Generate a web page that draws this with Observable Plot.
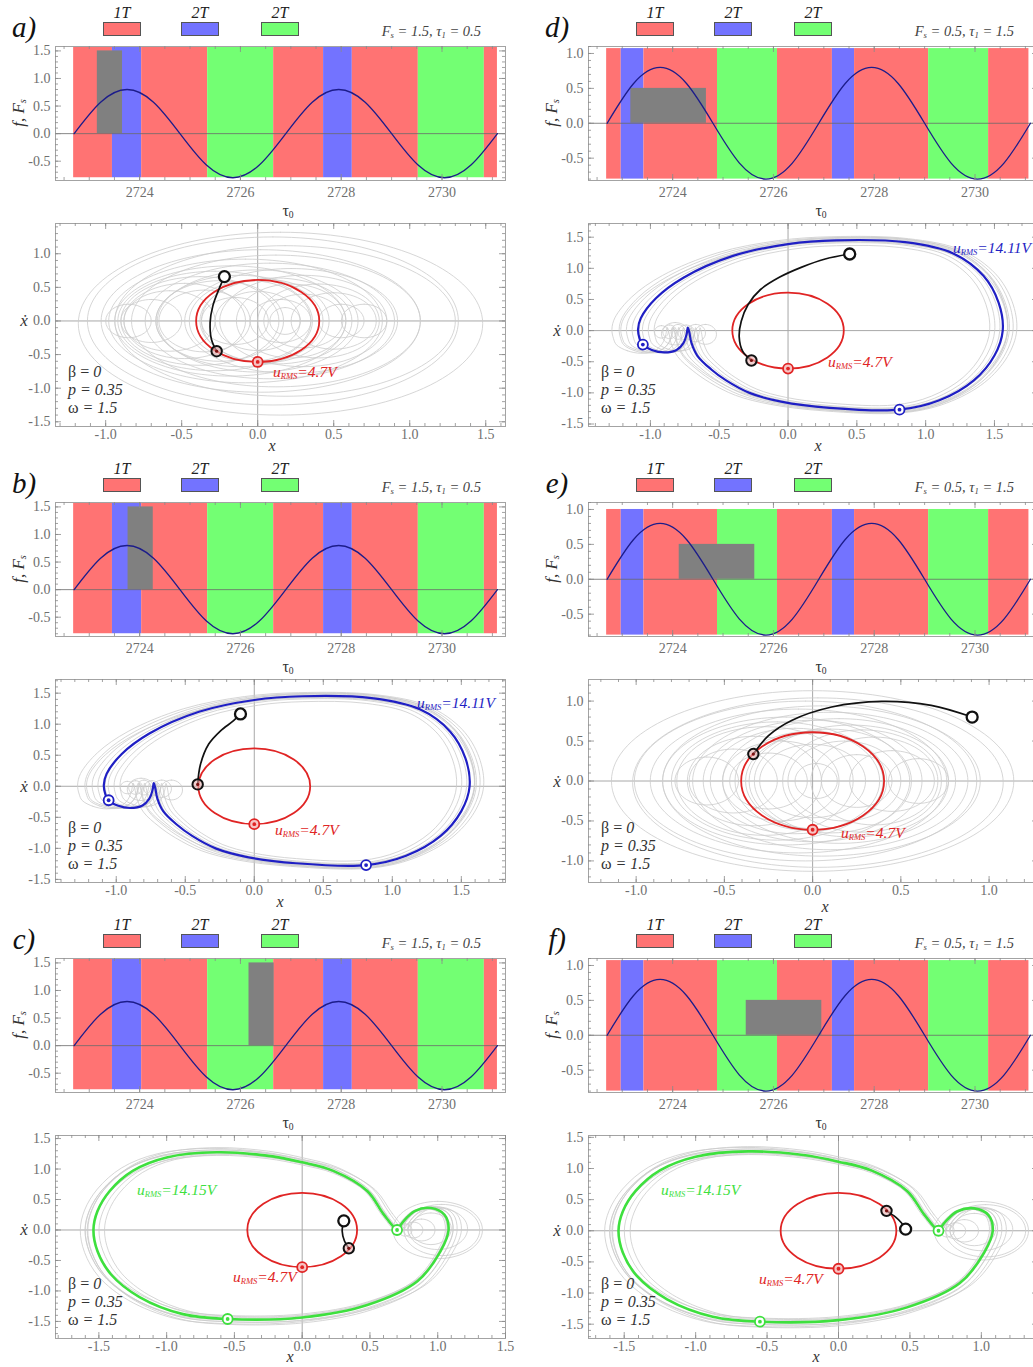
<!DOCTYPE html>
<html><head><meta charset="utf-8">
<script src="https://cdn.jsdelivr.net/npm/d3@7"></script>
<script src="https://cdn.jsdelivr.net/npm/@observablehq/plot@0.6"></script>
<style>
body{margin:0;background:#fff;}
#root{position:relative;width:1033px;height:1367px;overflow:hidden;background:#fff;font-family:"Liberation Serif","DejaVu Serif",serif;}
.abs{position:absolute;white-space:nowrap;line-height:1;}
.box{position:absolute;border:1px solid #555;box-sizing:border-box;}
sub{font-size:60%;vertical-align:-0.25em;}
</style></head><body><div id="root"></div><script>
// ---------------- layout of the 2 x 3 grid ----------------
const colX = [0, 533];
const rowY = [0, 456, 912];

// ---------------- strip (time) charts ----------------
const tauTicks = [2724, 2726, 2728, 2730];
const tauDomain = [2722.33, 2731.26];
const sineTau = [2722.7, 2723.225, 2723.75, 2724.275, 2724.8, 2725.325, 2725.85, 2726.375, 2726.9, 2727.425, 2727.95, 2728.475, 2729.0, 2729.525, 2730.05, 2730.575, 2731.1];
const sineF = [0, 0.57, 0.8, 0.57, 0, -0.57, -0.8, -0.57, 0, 0.57, 0.8, 0.57, 0, -0.57, -0.8, -0.57, 0];
const bandEdgesFs15 = [2722.69, 2723.46, 2724.04, 2725.35, 2726.66, 2727.65, 2728.22, 2729.53, 2730.84, 2731.1];
const bandEdgesFs05 = [2722.69, 2722.98, 2723.43, 2724.89, 2726.08, 2727.17, 2727.61, 2729.08, 2730.27, 2731.07];
const bandModes = ["1T", "2Tb", "1T", "2Tg", "1T", "2Tb", "1T", "2Tg", "1T"];
const modeColor = {"1T": "#ff7373", "2Tb": "#7373ff", "2Tg": "#73ff73"};
const legendModes = ["1T", "2Tb", "2Tg"];
const legendLabels = ["1T", "2T", "2T"];

const panelLetters = ["a)", "b)", "c)", "d)", "e)", "f)"];
const panelFs = [1.5, 1.5, 1.5, 0.5, 0.5, 0.5];
const panelTau1 = [0.5, 0.5, 0.5, 1.5, 1.5, 1.5];
const pulseStart = [2723.16, 2723.77, 2726.17, 2723.17, 2724.13, 2725.46];
const bandTop = [1.57, 1.57, 1.57, 1.07, 1.0, 1.07];
const bandBottom = -0.8;
const stripYDomainL = [-0.85, 1.58];
const stripYDomainR = [-0.82, 1.1];
const stripYTicksL = [-0.5, 0, 0.5, 1.0, 1.5];
const stripYTicksR = [-0.5, 0, 0.5, 1.0];

// ---------------- phase portraits ----------------
const phaseXDomain = [[-1.33, 1.63], [-1.44, 1.82], [-1.82, 1.50], [-1.45, 1.82], [-1.27, 1.28], [-1.75, 1.40]];
const phaseYDomain = [[-1.57, 1.45], [-1.55, 1.72], [-1.78, 1.55], [-1.54, 1.72], [-1.27, 1.27], [-1.73, 1.53]];
const phaseTicks = [-1.5, -1.0, -0.5, 0, 0.5, 1.0, 1.5];
const attractor = ["red", "blue", "green", "blue", "red", "green"];

// red 1T orbit: extreme points (right, top, left, bottom)
const orbitRed = [[0.405, 0], [0, 0.61], [-0.405, 0], [0, -0.61]];
// blue 2T orbit
const orbitBlue = [[-1.06,-0.22],[-0.99,-0.31],[-0.9,-0.35],[-0.81,-0.31],[-0.76,-0.2],[-0.737,-0.06],[-0.728,0.05],[-0.717,-0.03],[-0.703,-0.19],[-0.66,-0.4],[-0.56,-0.62],[-0.45,-0.8],[-0.28,-1.0],[-0.05,-1.14],[0.3,-1.24],[0.81,-1.27],[1.1,-1.12],[1.35,-0.8],[1.5,-0.4],[1.56,0],[1.53,0.45],[1.42,0.88],[1.2,1.24],[0.85,1.42],[0.35,1.45],[0,1.39],[-0.4,1.2],[-0.76,0.85],[-0.96,0.52],[-1.07,0.2],[-1.09,0.02],[-1.08,-0.12]];
// green 2T orbit
const orbitGreen = [[0.70,0.0],[0.6,0.26],[0.48,0.64],[0.23,0.97],[0.0,1.11],[-0.26,1.22],[-0.63,1.275],[-1.0,1.19],[-1.25,0.97],[-1.42,0.64],[-1.51,0.31],[-1.54,0],[-1.51,-0.35],[-1.41,-0.73],[-1.2,-1.1],[-0.88,-1.38],[-0.55,-1.46],[0.0,-1.435],[0.48,-1.23],[0.85,-0.84],[1.02,-0.35],[1.08,0.0],[1.05,0.25],[0.95,0.36],[0.83,0.31],[0.75,0.15],[0.71,0.03]];
const blueMarkers = [[-1.055, -0.225], [0.81, -1.27]];
const greenMarkers = [[0.70, 0.0], [-0.55, -1.46]];
const redMarker = [0, -0.61];

// transient (black) trajectories: first point = start (open circle), last = end (ring)
const transients = [
  [[-0.219,0.66],[-0.25,0.5],[-0.295,0.225],[-0.313,-0.025],[-0.304,-0.275],[-0.27,-0.45]],
  [[-0.10,1.165],[-0.15,1.057],[-0.246,0.89],[-0.33,0.68],[-0.39,0.35],[-0.41,0.03]],
  [[0.307,0.15],[0.295,-0.016],[0.312,-0.18],[0.344,-0.30]],
  [[0.448,1.23],[0.27,1.15],[0.1,1.02],[-0.06,0.86],[-0.2,0.66],[-0.29,0.42],[-0.34,0.15],[-0.355,-0.1],[-0.33,-0.33],[-0.266,-0.48]],
  [[0.904,0.8],[0.672,0.947],[0.39,0.997],[0.108,0.926],[-0.119,0.758],[-0.25,0.568],[-0.336,0.337]],
  [[0.47,0.027],[0.44,0.13],[0.40,0.22],[0.336,0.32]]
];

// grey background loops: [cx, cy, rx, ry]
const greyLoopsA = [[0.15,-0.04,1.33,1.36],[0.10,0,1.22,1.25],[0.18,0,1.12,1.12],[0.02,0,1.05,1.06],[0.12,0,0.95,0.98],[-0.08,0,0.90,0.92],[0.08,0,0.82,0.86],[-0.18,0,0.76,0.82],[0.22,0,0.70,0.78],[-0.28,0,0.64,0.74],[0.0,0,0.66,0.76],[0.30,0,0.55,0.68],[-0.38,0,0.52,0.66],[-0.12,0,0.55,0.68],[0.12,0,0.50,0.64],[-0.48,0,0.40,0.56],[0.40,0,0.40,0.55],[-0.25,0,0.42,0.6],[0.05,0,0.42,0.62],[-0.05,0,0.40,0.6],[0.22,0,0.36,0.55],[-0.58,0,0.30,0.45],[0.5,0,0.28,0.42],[-0.35,0,0.3,0.46],[0.3,0,0.26,0.4],[0.0,0,0.28,0.44],[-0.15,0,0.22,0.35],[0.15,0,0.2,0.32],[0.55,0,0.15,0.25],[-0.7,0,0.2,0.32],[0.18,0,0.1,0.2],[-0.85,0,0.15,0.25],[0.7,0,0.15,0.25]];
const greyLoopsE = [[0,0,1.14,1.13],[0.03,-0.02,1.05,1.06],[-0.04,0,0.97,1.0],[0.05,0,0.9,0.94],[-0.08,0,0.84,0.9],[0.1,0,0.78,0.86],[-0.15,0,0.7,0.8],[0.15,0,0.66,0.78],[-0.2,0,0.6,0.74],[0.0,0,0.62,0.76],[0.22,0,0.55,0.7],[-0.27,0,0.5,0.68],[0.28,0,0.45,0.64],[-0.1,0,0.48,0.66],[0.1,0,0.46,0.65],[-0.33,0,0.38,0.56],[0.35,0,0.36,0.55],[0.02,0,0.4,0.6],[-0.02,0,0.42,0.62],[-0.18,0,0.33,0.5],[0.18,0,0.32,0.5],[0.0,0,0.3,0.46],[-0.45,0,0.25,0.4],[0.45,0,0.24,0.38],[-0.25,0,0.22,0.35],[0.25,0,0.2,0.33],[0.02,0,0.12,0.22],[-0.6,0,0.18,0.3],[0.6,0,0.17,0.28]];
const greyLoopsBlue = [[-0.92,-0.02,0.05,0.1],[-0.86,-0.02,0.05,0.11],[-0.8,-0.02,0.05,0.12],[-0.74,-0.03,0.06,0.12],[-0.67,-0.04,0.07,0.14],[-0.6,-0.06,0.08,0.16],[-0.82,-0.05,0.1,0.18]];
const greyLoopsGreen = [[0.76,0,0.05,0.1],[0.82,0,0.07,0.13],[0.88,0,0.1,0.18],[0.95,0.02,0.15,0.26],[1.0,0.02,0.22,0.34],[1.03,0,0.28,0.42],[1.0,0,0.33,0.47]];
// grey bundle around the 2T orbits: [scale x, scale y, shift x]
const bundleBlue = [[1.11,1.04,-0.07],[1.08,1.03,-0.05],[1.05,1.02,-0.03],[1.03,1.01,-0.01],[0.98,0.985,0.01],[0.95,0.97,0.02],[1.06,0.98,-0.06],[1.01,1.03,0.02],[0.92,0.94,0.03]];
const bundleGreen = [[1.05,1.05,-0.02],[1.03,1.03,0.0],[1.02,1.01,-0.03],[0.98,0.98,0.01],[0.96,0.97,0.02],[1.06,1.03,0.03],[1.0,0.96,0.0],[1.04,1.06,0.02]];

const rmsText = {red: "4.7V", blue: "14.11V", green: "14.15V"};
const colors = {red: "#e02424", blue: "#1f1fc4", green: "#3ee03e", grey: "#cbcbcb", frame: "#a3a3a3", tick: "#6f6f6f"};
// position of the "x" axis title under each phase portrait (panel-local)
const xTitlePos = [[272, 446], [280, 446], [290, 445], [285, 446], [292, 451], [283, 445]];

// ---------------- helpers ----------------
const root = document.getElementById("root");
function txt(html, x, y, css = "", anchor = "middle", rot = "") {
  const d = document.createElement("div");
  d.className = "abs";
  d.innerHTML = html;
  d.style.cssText += css;
  d.style.left = x + "px"; d.style.top = y + "px";
  const tx = anchor === "middle" ? "-50%" : anchor === "end" ? "-100%" : "0";
  d.style.transform = `translate(${tx},-50%)` + rot;
  root.appendChild(d);
}
function placeSvg(svg, x, y) {
  svg.style.position = "absolute"; svg.style.left = x + "px"; svg.style.top = y + "px";
  root.appendChild(svg);
}
function loopPts(list, tag) {
  return list.flatMap(([cx, cy, rx, ry], k) =>
    [[cx + rx, cy], [cx, cy + ry], [cx - rx, cy], [cx, cy - ry]].map(([x, y]) => ({x, y, id: tag + k})));
}
function bundlePts(orbit, list) {
  return list.flatMap(([sx, sy, dx], k) => orbit.map(([x, y]) => ({x: x * sx + dx, y: y * sy, id: "b" + k})));
}
function frameTicks(xMajor, xMinor, yMajor, yMinor, iw, ih) {
  const st = {stroke: "#8a8a8a", strokeWidth: 0.8};
  return [
    Plot.tickX(xMinor, {x: d => d, insetTop: ih - 3, ...st}),
    Plot.tickX(xMinor, {x: d => d, insetBottom: ih - 3, ...st}),
    Plot.tickX(xMajor, {x: d => d, insetTop: ih - 6, ...st}),
    Plot.tickX(xMajor, {x: d => d, insetBottom: ih - 6, ...st}),
    Plot.tickY(yMinor, {y: d => d, insetRight: iw - 3, ...st}),
    Plot.tickY(yMinor, {y: d => d, insetLeft: iw - 3, ...st}),
    Plot.tickY(yMajor, {y: d => d, insetRight: iw - 6, ...st}),
    Plot.tickY(yMajor, {y: d => d, insetLeft: iw - 6, ...st})
  ];
}
const plotStyle = {fontFamily: "'Liberation Serif','DejaVu Serif',serif", fontSize: "14px", color: colors.tick, background: "transparent", overflow: "visible"};
const minorIn = (lo, hi, step) => d3.range(Math.ceil(lo / step - 1e-9) * step, hi + 1e-9, step).map(v => +v.toFixed(3));

// ---------------- strip chart ----------------
function strip(i) {
  const left = i < 3;
  const edges = left ? bandEdgesFs15 : bandEdgesFs05;
  const bands = bandModes.map((m, k) => ({t0: edges[k], t1: edges[k + 1], y1: bandBottom, y2: bandTop[i], c: modeColor[m]}));
  const yDom = left ? stripYDomainL : stripYDomainR;
  const yT = left ? stripYTicksL : stripYTicksR;
  const sine = sineTau.map((t, k) => ({t, f: sineF[k]}));
  const pulse = [{t0: pulseStart[i], t1: pulseStart[i] + panelTau1[i], y1: 0, y2: panelFs[i]}];
  return Plot.plot({
    width: 516, height: 220, marginLeft: 55, marginRight: 11, marginTop: 46, marginBottom: 40,
    x: {domain: tauDomain, label: null}, y: {domain: yDom, label: null},
    color: {type: "identity"},
    style: plotStyle,
    marks: [
      Plot.rect(bands, {x1: "t0", x2: "t1", y1: "y1", y2: "y2", fill: "c"}),
      Plot.rect(pulse, {x1: "t0", x2: "t1", y1: "y1", y2: "y2", fill: "#808080"}),
      Plot.ruleY([0], {stroke: "#6a6a6a", strokeWidth: 1, strokeOpacity: 0.8}),
      Plot.line(sine, {x: "t", y: "f", curve: "natural", stroke: "#1c1c8a", strokeWidth: 1.3}),
      Plot.frame({stroke: colors.frame}),
      ...frameTicks(tauTicks, minorIn(tauDomain[0], tauDomain[1], 0.5), yT, minorIn(yDom[0], yDom[1], 0.1), 450, 134),
      Plot.axisX(tauTicks, {anchor: "bottom", tickSize: 0, tickPadding: 7, tickFormat: d => String(d), label: null}),
      Plot.axisY(yT, {anchor: "left", tickSize: 0, tickPadding: 5, tickFormat: d => d.toFixed(1), label: null})
    ]
  });
}

// ---------------- phase portrait ----------------
function phase(i) {
  const xd = phaseXDomain[i], yd = phaseYDomain[i];
  const kind = attractor[i];
  const xT = phaseTicks.filter(v => v >= xd[0] && v <= xd[1]);
  const yT = phaseTicks.filter(v => v >= yd[0] && v <= yd[1]);
  let grey = [], bundle = [], orbit = null, mk = [];
  if (kind === "red") grey = loopPts(i === 0 ? greyLoopsA : greyLoopsE, "g");
  if (kind === "blue") { grey = loopPts(greyLoopsBlue, "g"); bundle = bundlePts(orbitBlue, bundleBlue); orbit = orbitBlue; mk = blueMarkers; }
  if (kind === "green") { grey = loopPts(greyLoopsGreen, "g"); bundle = bundlePts(orbitGreen, bundleGreen); orbit = orbitGreen; mk = greenMarkers; }
  const tr = transients[i].map(([x, y]) => ({x, y}));
  const start = tr[0], end = tr[tr.length - 1];
  const red = orbitRed.map(([x, y]) => ({x, y}));
  const oc = colors[kind];
  const marks = [
    Plot.ruleX([0], {stroke: "#a8a8a8", strokeWidth: 1}),
    Plot.ruleY([0], {stroke: "#a8a8a8", strokeWidth: 1}),
    Plot.line(grey, {x: "x", y: "y", z: "id", curve: "cardinal-closed", tension: -0.657, stroke: colors.grey, strokeWidth: 0.8, clip: true}),
    Plot.line(bundle, {x: "x", y: "y", z: "id", curve: "catmull-rom-closed", stroke: colors.grey, strokeWidth: 0.8, clip: true}),
    Plot.line(red, {x: "x", y: "y", curve: "cardinal-closed", tension: -0.657, stroke: colors.red, strokeWidth: 1.8})
  ];
  marks.push(Plot.line(tr, {x: "x", y: "y", curve: "catmull-rom", stroke: "#111", strokeWidth: 1.7}));
  if (orbit) {
    marks.push(Plot.line(orbit.map(([x, y]) => ({x, y})), {x: "x", y: "y", curve: "catmull-rom-closed", stroke: oc, strokeWidth: kind === "green" ? 2.6 : 2.2}));
    const m = mk.map(([x, y]) => ({x, y}));
    marks.push(Plot.dot(m, {x: "x", y: "y", r: 5, stroke: oc, strokeWidth: 1.8, fill: "white"}));
    marks.push(Plot.dot(m, {x: "x", y: "y", r: 1.9, fill: oc}));
  }
  const rm = [{x: redMarker[0], y: redMarker[1]}];
  marks.push(Plot.dot(rm, {x: "x", y: "y", r: 5, stroke: colors.red, strokeWidth: 1.8, fill: "#f7c4c4"}));
  marks.push(Plot.dot(rm, {x: "x", y: "y", r: 1.9, fill: colors.red}));
  marks.push(Plot.dot([end], {x: "x", y: "y", r: 5.2, stroke: "#111", strokeWidth: 2, fill: "#e8b0b0", fillOpacity: 0.6}));
  marks.push(Plot.dot([end], {x: "x", y: "y", r: 1.6, fill: "#7a1010"}));
  marks.push(Plot.dot([start], {x: "x", y: "y", r: 5.5, stroke: "#111", strokeWidth: 2.3, fill: "white"}));
  marks.push(Plot.frame({stroke: colors.frame}));
  marks.push(...frameTicks(xT, minorIn(xd[0], xd[1], 0.1), yT, minorIn(yd[0], yd[1], 0.1), 450, 203));
  marks.push(Plot.axisX(xT, {anchor: "bottom", tickSize: 0, tickPadding: 3, tickFormat: d => d.toFixed(1), label: null}));
  marks.push(Plot.axisY(yT, {anchor: "left", tickSize: 0, tickPadding: 5, tickFormat: d => d.toFixed(1), label: null}));
  return Plot.plot({
    width: 516, height: 236, marginLeft: 55, marginRight: 11, marginTop: 3, marginBottom: 30,
    x: {domain: xd, label: null}, y: {domain: yd, label: null},
    style: plotStyle,
    marks
  });
}

// ---------------- build all six panels ----------------
for (let i = 0; i < 6; i++) {
  const c = i < 3 ? 0 : 1, r = i % 3;
  const X = colX[c], Y = rowY[r];
  placeSvg(strip(i), X, Y);
  placeSvg(phase(i), X, Y + 220);

  // panel letter, legend, parameters
  txt(panelLetters[i], X + 24, Y + 27, "font-size:29px;font-style:italic;color:#111;");
  const boxX = [103, 181, 261];
  legendModes.forEach((m, k) => {
    const b = document.createElement("div");
    b.className = "box";
    b.style.cssText += `left:${X + boxX[k]}px;top:${Y + 22}px;width:38px;height:14px;background:${modeColor[m]};`;
    root.appendChild(b);
    txt(legendLabels[k], X + boxX[k] + 19, Y + 13, "font-size:16px;font-style:italic;color:#222;");
  });
  txt(`<i>F<sub>s</sub> = ${panelFs[i]}, τ<sub>1</sub> = ${panelTau1[i]}</i>`, X + 481, Y + 32, "font-size:14.5px;color:#444;", "end");
  // strip axis labels
  txt(`<i>f, F<sub>s</sub></i>`, X + 19, Y + 113, "font-size:17px;color:#333;", "middle", " rotate(-90deg)");
  txt(`τ<sub>0</sub>`, X + 288, Y + 211, "font-size:16px;color:#333;");
  // phase axis labels
  const yd = phaseYDomain[i];
  const y0pix = Y + 223 + 203 * (yd[1] / (yd[1] - yd[0]));
  txt(`<i>ẋ</i>`, X + 24, y0pix, "font-size:17px;color:#333;");
  txt(`<i>x</i>`, X + xTitlePos[i][0], Y + xTitlePos[i][1], "font-size:16px;color:#333;");
  // parameters inside phase plot
  txt(`β = <i>0</i>`, X + 68, Y + 372, "font-size:16px;color:#333;", "start");
  txt(`<i>p = 0.35</i>`, X + 68, Y + 390, "font-size:16px;color:#333;", "start");
  txt(`ω <i>= 1.5</i>`, X + 68, Y + 408, "font-size:16px;color:#333;", "start");
}

// u_RMS annotations (page-local panel coordinates)
const rmsLabels = [
  {p: 0, kind: "red", x: 273, y: 372},
  {p: 1, kind: "red", x: 275, y: 374}, {p: 1, kind: "blue", x: 417, y: 247},
  {p: 2, kind: "red", x: 233, y: 365}, {p: 2, kind: "green", x: 137, y: 278},
  {p: 3, kind: "red", x: 295, y: 362}, {p: 3, kind: "blue", x: 420, y: 248},
  {p: 4, kind: "red", x: 308, y: 377},
  {p: 5, kind: "red", x: 226, y: 367}, {p: 5, kind: "green", x: 128, y: 278}
];
rmsLabels.forEach(({p, kind, x, y}) => {
  const c = p < 3 ? 0 : 1, r = p % 3;
  txt(`<i>u<sub style="font-size:55%">RMS</sub>=${rmsText[kind]}</i>`, colX[c] + x, rowY[r] + y, `font-size:15.5px;color:${colors[kind]};`, "start");
});
</script></body></html>
